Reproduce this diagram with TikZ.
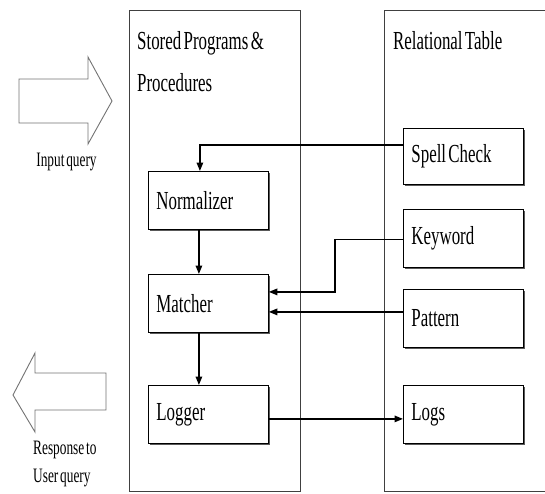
\documentclass[tikz,border=0pt]{standalone}
\usepackage{fontspec}
\setmainfont[FakeStretch=0.65,WordSpace=0.55]{Liberation Serif}
\usetikzlibrary{arrows.meta,shadows}
\begin{document}
\begin{tikzpicture}[x=1pt,y=-1pt,
  container/.style={draw=black!75, line width=0.8pt},
  procbox/.style={draw=black, line width=0.8pt, fill=white,
    minimum height=58pt, text width=104pt, inner xsep=8pt, inner ysep=0pt,
    align=flush left, anchor=north west,
    font=\fontsize{26}{30}\selectfont,
    drop shadow={shadow xshift=1.8pt, shadow yshift=-1.8pt, fill=black!65, opacity=1}},
  title/.style={anchor=base west, inner sep=0pt, font=\fontsize{26}{30}\selectfont},
  small/.style={inner sep=0pt, font=\fontsize{20.5}{24}\selectfont},
  bigarrow/.style={draw=black!55, line width=0.9pt, fill=white, line join=miter},
  conn/.style={draw=black, line width=1.5pt, -{Triangle[length=8.5pt,width=6.5pt]}}
]
\useasboundingbox (0,0) rectangle (545,493);

% containers
\node[container, anchor=north west, minimum width=171pt, minimum height=481pt, inner sep=0pt] (left) at (129,10) {};
\draw[container] (547,10) -- (384,10) -- (384,491) -- (547,491);

% titles
\node[title] (t1) at (137,49) {Stored Programs \&};
\node[title] (t2) at (137,91) {Procedures};
\node[title] (t3) at (393,49) {Relational Table};

% big arrows
\draw[bigarrow] (19,79) -- (88,79) -- (88,57) -- (112,101) -- (88,144) -- (88,123) -- (19,123) -- cycle;
\draw[bigarrow] (13,395) -- (35,353) -- (35,373) -- (106,373) -- (106,410) -- (35,410) -- (35,432) -- cycle;
\node[small, anchor=base] (inq) at (66.5,166) {Input query};
\node[small, anchor=base west] (resp1) at (33,454) {Response to};
\node[small, anchor=base west] (resp2) at (33,482) {User query};

% boxes
\node[procbox] (norm) at (148,171) {Normalizer};
\node[procbox] (match) at (148,274) {Matcher};
\node[procbox] (logger) at (148,385) {Logger};
\node[procbox, minimum height=56pt] (spell) at (403,128) {Spell Check};
\node[procbox] (kw) at (403,209) {Keyword};
\node[procbox] (pat) at (403,289) {Pattern};
\node[procbox] (logs) at (403,385) {Logs};

% connectors
\draw[conn] ([yshift=11.5pt]spell.west) -| ([xshift=-8.5pt]norm.north);
\draw[conn] ([xshift=-9.5pt]norm.south) -- ([xshift=-9.5pt]norm.south |- match.north);
\draw[conn] ([xshift=-9.5pt]match.south) -- ([xshift=-9.5pt]match.south |- logger.north);
\coordinate (mhi) at ([yshift=11.5pt]match.east);
\coordinate (mlo) at ([yshift=-8.5pt]match.east);
\coordinate (kwbend) at (335,0);
\draw[conn] ([yshift=-1pt]kw.west) -- ([yshift=-1pt]kw.west -| kwbend) -- (kwbend |- mhi) -- (mhi);
\draw[conn] (pat.west |- mlo) -- (mlo);
\draw[conn] ([yshift=-4.5pt]logger.east) -- ([yshift=-4.5pt]logs.west);
\end{tikzpicture}
\end{document}
